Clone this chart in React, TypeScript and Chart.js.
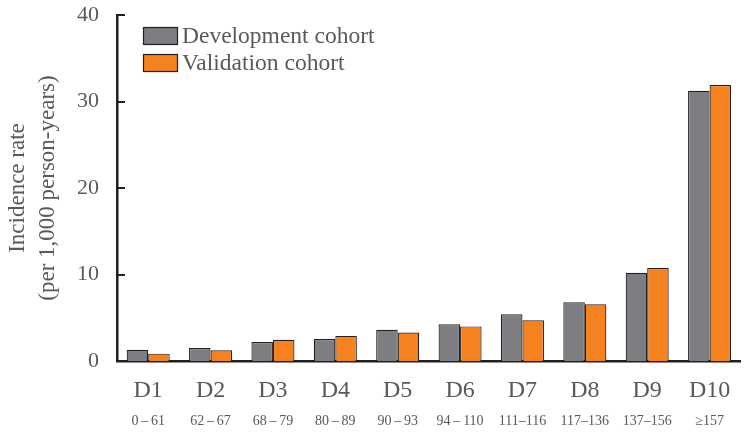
import React, { useEffect, useRef } from "react";
import { Chart, registerables } from "chart.js";

Chart.register(...registerables);

const deciles = ["D1", "D2", "D3", "D4", "D5", "D6", "D7", "D8", "D9", "D10"];
const ranges = [
  "0\u2009\u2013\u200961",
  "62\u2009\u2013\u200967",
  "68\u2009\u2013\u200979",
  "80\u2009\u2013\u200989",
  "90\u2009\u2013\u200993",
  "94\u2009\u2013\u2009110",
  "111\u2013116",
  "117\u2013136",
  "137\u2013156",
  "\u2265157",
];
const developmentRates = [1.3, 1.5, 2.2, 2.55, 3.6, 4.25, 5.4, 6.8, 10.2, 31.25];
const validationRates = [0.85, 1.25, 2.45, 2.9, 3.3, 4.0, 4.7, 6.55, 10.75, 31.9];
const seriesNames = ["Development cohort", "Validation cohort"];
const yTitle = ["Incidence rate", "(per 1,000 person-years)"];

const FONT = "'Liberation Serif', 'Times New Roman', serif";
const TEXT = "#595959";
const AXIS = "#231f20";
const GRAY = "#7c7e81";
const ORANGE = "#f5821f";

const inwardTicks = {
  id: "inwardTicks",
  afterDraw(chart: any) {
    const { ctx, chartArea } = chart;
    const ys = chart.scales.y;
    ctx.save();
    ctx.strokeStyle = AXIS;
    ctx.lineWidth = 2;
    ys.ticks.forEach((t: any) => {
      const y = Math.round(ys.getPixelForValue(t.value));
      ctx.beginPath();
      ctx.moveTo(chartArea.left, y);
      ctx.lineTo(chartArea.left + 8, y);
      ctx.stroke();
    });
    ctx.restore();
  },
};

const insideLegend = {
  id: "insideLegend",
  afterDraw(chart: any) {
    const { ctx, chartArea } = chart;
    ctx.save();
    ctx.font = `23.5px ${FONT}`;
    ctx.textBaseline = "middle";
    ctx.textAlign = "left";
    chart.data.datasets.forEach((ds: any, i: number) => {
      const x = chartArea.left + 26.5;
      const y = chartArea.top + 12.5 + i * 27;
      ctx.fillStyle = ds.backgroundColor;
      ctx.fillRect(x, y, 34, 17);
      ctx.strokeStyle = AXIS;
      ctx.lineWidth = 1.2;
      ctx.strokeRect(x, y, 34, 17);
      ctx.fillStyle = TEXT;
      ctx.fillText(ds.label, x + 38.5, y + 9);
    });
    ctx.restore();
  },
};

export default function App() {
  const ref = useRef<HTMLCanvasElement>(null);

  useEffect(() => {
    document.body.style.margin = "0";
    const chart = new Chart(ref.current as HTMLCanvasElement, {
      type: "bar",
      data: {
        labels: deciles,
        datasets: [
          {
            label: seriesNames[0],
            data: developmentRates,
            backgroundColor: GRAY,
            borderColor: AXIS,
            borderWidth: 1.2,
            categoryPercentage: 0.69,
            barPercentage: 1,
          },
          {
            label: seriesNames[1],
            data: validationRates,
            backgroundColor: ORANGE,
            borderColor: AXIS,
            borderWidth: 1.2,
            categoryPercentage: 0.69,
            barPercentage: 1,
          },
        ],
      },
      options: {
        animation: false,
        responsive: true,
        maintainAspectRatio: false,
        layout: { padding: { top: 0, right: 5, left: 0, bottom: 0 } },
        plugins: { legend: { display: false }, tooltip: { enabled: false } },
        scales: {
          x: {
            type: "category",
            position: "bottom",
            grid: { display: false, drawTicks: false },
            border: { display: true, color: AXIS, width: 2.5 },
            ticks: {
              font: { family: FONT, size: 24 },
              color: TEXT,
              padding: 15.5,
              maxRotation: 0,
              autoSkip: false,
            },
            afterFit: (s: any) => {
              s.height = 48;
            },
          },
          x2: {
            type: "category",
            labels: ranges,
            position: "bottom",
            offset: true,
            grid: { display: false, drawTicks: false },
            border: { display: false },
            ticks: {
              font: { family: FONT, size: 14 },
              color: TEXT,
              padding: 4,
              maxRotation: 0,
              autoSkip: false,
            },
            afterFit: (s: any) => {
              s.height = 29;
            },
          },
          y: {
            min: 0,
            max: 40,
            grid: { display: false, drawTicks: false },
            border: { display: true, color: AXIS, width: 2.5 },
            ticks: {
              stepSize: 10,
              font: { family: FONT, size: 22 },
              color: TEXT,
              padding: 18,
            },
            title: {
              display: true,
              text: yTitle,
              color: TEXT,
              font: { family: FONT, size: 23, lineHeight: 1.33 },
              padding: { top: 2.5, bottom: 0 },
            },
            afterFit: (s: any) => {
              s.width = 117;
              s.paddingTop = 15;
              s.paddingBottom = 0;
            },
          },
        },
      } as any,
      plugins: [inwardTicks, insideLegend],
    });
    return () => chart.destroy();
  }, []);

  return (
    <div style={{ position: "relative", width: 746, height: 438 }}>
      <canvas ref={ref} />
    </div>
  );
}
